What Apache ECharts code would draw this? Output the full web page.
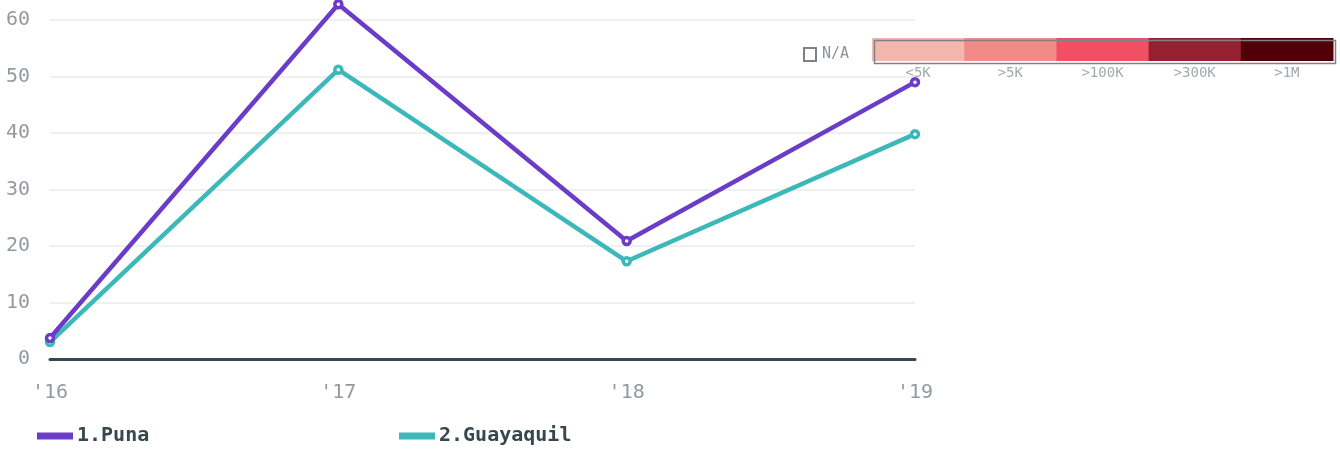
<!DOCTYPE html>
<html><head><meta charset="utf-8">
<script src="https://cdn.jsdelivr.net/npm/echarts@6/dist/echarts.min.js"></script>
<style>html,body{margin:0;padding:0;background:#fff}#c{width:1340px;height:452px}</style>
</head><body><div id="c"></div>
<script>
const categories = ["'16", "'17", "'18", "'19"];
const punaValues = [3.7, 62.8, 20.9, 49.0];
const guayaquilValues = [3.0, 51.2, 17.3, 39.8];
const seriesNames = ['1.Puna', '2.Guayaquil'];
const seriesColors = ['#6a3cc8', '#3db8b9'];
const yTicks = [0, 10, 20, 30, 40, 50, 60];
const scaleLabels = ['<5K', '>5K', '>100K', '>300K', '>1M'];
const scaleColors = ['#f4b7ae', '#f28a88', '#f05062', '#95202f', '#520008'];
const naLabel = 'N/A';

const FONT = '"DejaVu Sans Mono", monospace';
const chart = echarts.init(document.getElementById('c'));

const barLeft = 872, barTop = 38, barW = 461, barH = 23;
const cellW = barW / scaleColors.length;
const graphics = [];
scaleColors.forEach((c, i) => {
  graphics.push({type: 'rect', left: barLeft + i * cellW, top: barTop, silent: true,
    shape: {width: cellW + 0.5, height: barH}, style: {fill: c}});
  graphics.push({type: 'text', x: barLeft + i * cellW + cellW / 2, y: barTop + barH + 5, silent: true,
    style: {text: scaleLabels[i], fill: '#a3a9ad', font: '14px ' + FONT, textAlign: 'center', textVerticalAlign: 'top'}});
});
graphics.push({type: 'rect', left: barLeft, top: barTop, silent: true,
  shape: {width: barW, height: barH}, style: {fill: 'none', stroke: '#7b8388', lineWidth: 1.5}});
graphics.push({type: 'rect', left: 803, top: 47, silent: true,
  shape: {width: 12, height: 13}, style: {fill: '#fff', stroke: '#7b8388', lineWidth: 2}});
graphics.push({type: 'text', x: 822, y: 54, silent: true,
  style: {text: naLabel, fill: '#8c9499', font: '15px ' + FONT, textVerticalAlign: 'middle'}});

const legendBase = {
  top: 421, itemWidth: 34, itemHeight: 5, icon: 'rect', itemGap: 10,
  textStyle: {color: '#37474f', fontFamily: FONT, fontSize: 20, fontWeight: 'bold'}
};

chart.setOption({
  animation: false,
  grid: {left: 50, right: 425, top: 20, bottom: 93, containLabel: false},
  legend: [
    Object.assign({}, legendBase, {left: 32, data: [{name: seriesNames[0], itemStyle: {color: seriesColors[0]}}]}),
    Object.assign({}, legendBase, {left: 394, data: [{name: seriesNames[1], itemStyle: {color: seriesColors[1]}}]})
  ],
  graphic: graphics,
  xAxis: {
    type: 'category', data: categories, boundaryGap: false,
    axisLine: {show: true, lineStyle: {color: '#37474f', width: 3}},
    axisTick: {show: false},
    axisLabel: {color: '#939a9f', fontFamily: FONT, fontSize: 20, margin: 24}
  },
  yAxis: {
    type: 'value', min: 0, max: 60, interval: 10,
    axisLine: {show: false}, axisTick: {show: false},
    splitLine: {lineStyle: {color: '#ebebeb', width: 1.5}},
    axisLabel: {color: '#939a9f', fontFamily: FONT, fontSize: 20, margin: 20,
      formatter: v => yTicks.includes(v) ? String(v) : ''}
  },
  series: [punaValues, guayaquilValues].map((vals, i) => ({
    name: seriesNames[i], type: 'line', data: vals, clip: false,
    symbol: 'circle', symbolSize: 7,
    lineStyle: {color: seriesColors[i], width: 4.5},
    itemStyle: {color: '#ffffff', borderColor: seriesColors[i], borderWidth: 3.5},
    z: 3 - i
  }))
});
</script></body></html>
